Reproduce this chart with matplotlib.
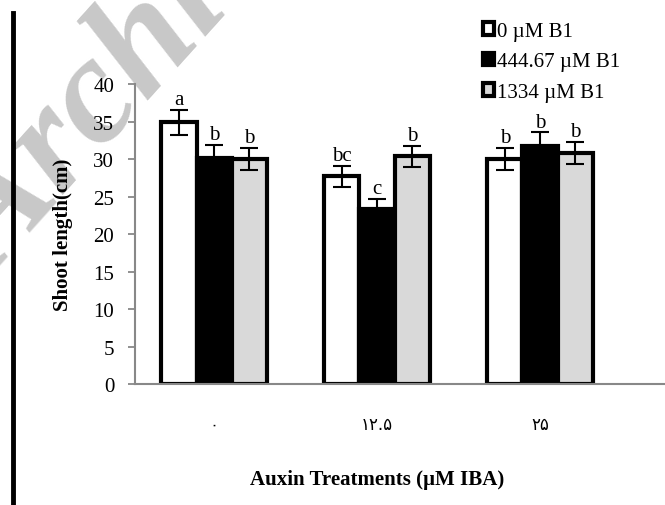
import numpy as np
import matplotlib.pyplot as plt

plt.rcParams['font.family'] = ['Liberation Serif', 'DejaVu Sans']

categories = ['۰', '۱۲.۵', '۲۵']
series = ['0 µM B1', '444.67 µM B1', '1334 µM B1']
values_0 = [34.9, 27.7, 30.0]
values_444 = [30.2, 23.4, 31.8]
values_1334 = [30.0, 30.4, 30.8]
err_0 = [1.7, 1.4, 1.5]
err_444 = [1.7, 1.3, 1.8]
err_1334 = [1.5, 1.4, 1.5]
letters_0 = ['a', 'bc', 'b']
letters_444 = ['b', 'c', 'b']
letters_1334 = ['b', 'b', 'b']

fills = ['white', 'black', '#d9d9d9']

fig = plt.figure(figsize=(6.65, 5.06), dpi=100)
ax = fig.add_axes([0.203, 0.239, 0.797, 0.593])

# watermark, mostly cut off at the top-left
fig.text(-0.005, 0.45, 'Archive of SID', rotation=48, rotation_mode='anchor',
         fontsize=110, fontweight='bold', fontstyle='italic', color='#c8c8c8',
         ha='left', va='baseline', zorder=-1)
# black rule on the left
fig.add_artist(plt.Line2D([0.019, 0.019], [0.0, 0.972], color='black', lw=3.5))

x = np.arange(len(categories))
w = 0.215
data = [(values_0, err_0, letters_0), (values_444, err_444, letters_444),
        (values_1334, err_1334, letters_1334)]
for i, (vals, errs, lets) in enumerate(data):
    pos = x + (i - 1) * w
    ax.bar(pos, vals, w, color=fills[i], edgecolor='black', linewidth=3,
           label=series[i], zorder=2)
    ax.errorbar(pos, vals, yerr=errs, fmt='none', ecolor='black', elinewidth=1.5,
                capsize=6.5, capthick=1.5, zorder=3)
    for p, v, e, t in zip(pos, vals, errs, lets):
        ax.text(p, v + e + 0.05, t, ha='center', va='bottom', fontsize=15)

ax.set_xlim(-0.485, 2.767)
ax.set_ylim(0, 40)
ax.set_yticks(range(0, 41, 5))
ax.tick_params(axis='y', labelsize=15, color='#888888', length=5, width=1.3, pad=10)
ax.tick_params(axis='x', length=0, pad=22)
ax.set_xticks(x)
ax.set_xticklabels(categories, fontsize=12, family=['DejaVu Sans'])
for s in ['top', 'right']:
    ax.spines[s].set_visible(False)
for s in ['left', 'bottom']:
    ax.spines[s].set_color('#888888')
    ax.spines[s].set_linewidth(1.5)
ax.patch.set_alpha(0)

ax.set_ylabel('Shoot length(cm)', fontsize=15, fontweight='bold')
ax.yaxis.set_label_coords(-0.117, 0.5)
fig.text(0.567, 0.052, 'Auxin Treatments (µM IBA)', ha='center', va='center',
         fontsize=15, fontweight='bold')

leg = ax.legend(loc='upper left', bbox_to_anchor=(0.64, 1.235), frameon=False,
                fontsize=15, handlelength=0.55, handleheight=0.55, handletextpad=0.15,
                labelspacing=0.55, borderaxespad=0)

fig.savefig('out.png', dpi=100)
